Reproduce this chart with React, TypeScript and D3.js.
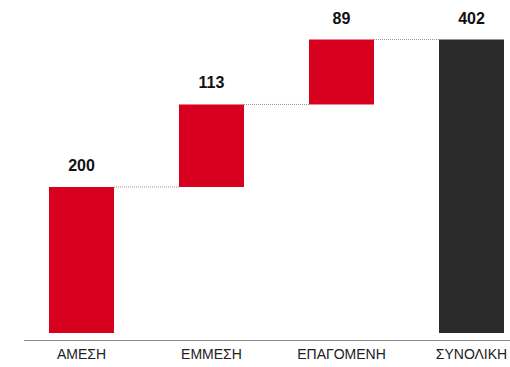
import React from "react";
import * as d3 from "d3";

const categories = ["ΑΜΕΣΗ", "ΕΜΜΕΣΗ", "ΕΠΑΓΟΜΕΝΗ", "ΣΥΝΟΛΙΚΗ"];
const values = [200, 113, 89, 402];
const isTotal = [false, false, false, true];

const W = 510;
const H = 367;

export default function App() {
  const x = d3
    .scaleBand<string>()
    .domain(categories)
    .range([16.5, 536.5])
    .paddingInner(0.5)
    .paddingOuter(0.25);
  const y = d3.scaleLinear().domain([0, 402]).range([333, 39.5]);

  let run = 0;
  const bars = categories.map((c, i) => {
    let start: number, end: number;
    if (isTotal[i]) {
      start = 0;
      end = values[i];
    } else {
      start = run;
      end = run + values[i];
      run = end;
    }
    return { c, start, end, v: values[i], total: isTotal[i] };
  });

  return (
    <div style={{ position: "absolute", left: 0, top: 0 }}>
      <svg width={W} height={H} style={{ display: "block" }}>
        <rect width={W} height={H} fill="#fff" />
        {bars.map((b, i) =>
          i < bars.length - 1 ? (
            <line
              key={"c" + i}
              x1={(x(b.c) as number) + x.bandwidth()}
              x2={x(bars[i + 1].c) as number}
              y1={y(b.end)}
              y2={y(b.end)}
              stroke="#999"
              strokeWidth={1}
              strokeDasharray="1,1"
            />
          ) : null
        )}
        {bars.map((b) => (
          <rect
            key={b.c}
            x={x(b.c)}
            y={y(b.end)}
            width={x.bandwidth()}
            height={y(b.start) - y(b.end)}
            fill={b.total ? "#2b2b2b" : "#d7001e"}
          />
        ))}
        {bars.map((b) => (
          <text
            key={"v" + b.c}
            x={(x(b.c) as number) + x.bandwidth() / 2}
            y={y(b.end) - 16}
            textAnchor="middle"
            fontFamily="'Liberation Sans', Arial, sans-serif"
            fontWeight="bold"
            fontSize={16}
            fill="#111"
          >
            {b.v}
          </text>
        ))}
        <line x1={24} x2={510} y1={340.5} y2={340.5} stroke="#8a8a8a" strokeWidth={1} />
        {categories.map((c) => (
          <text
            key={"l" + c}
            x={(x(c) as number) + x.bandwidth() / 2}
            y={359}
            textAnchor="middle"
            fontFamily="'Liberation Sans', Arial, sans-serif"
            fontSize={14}
            fill="#222"
          >
            {c}
          </text>
        ))}
      </svg>
    </div>
  );
}
